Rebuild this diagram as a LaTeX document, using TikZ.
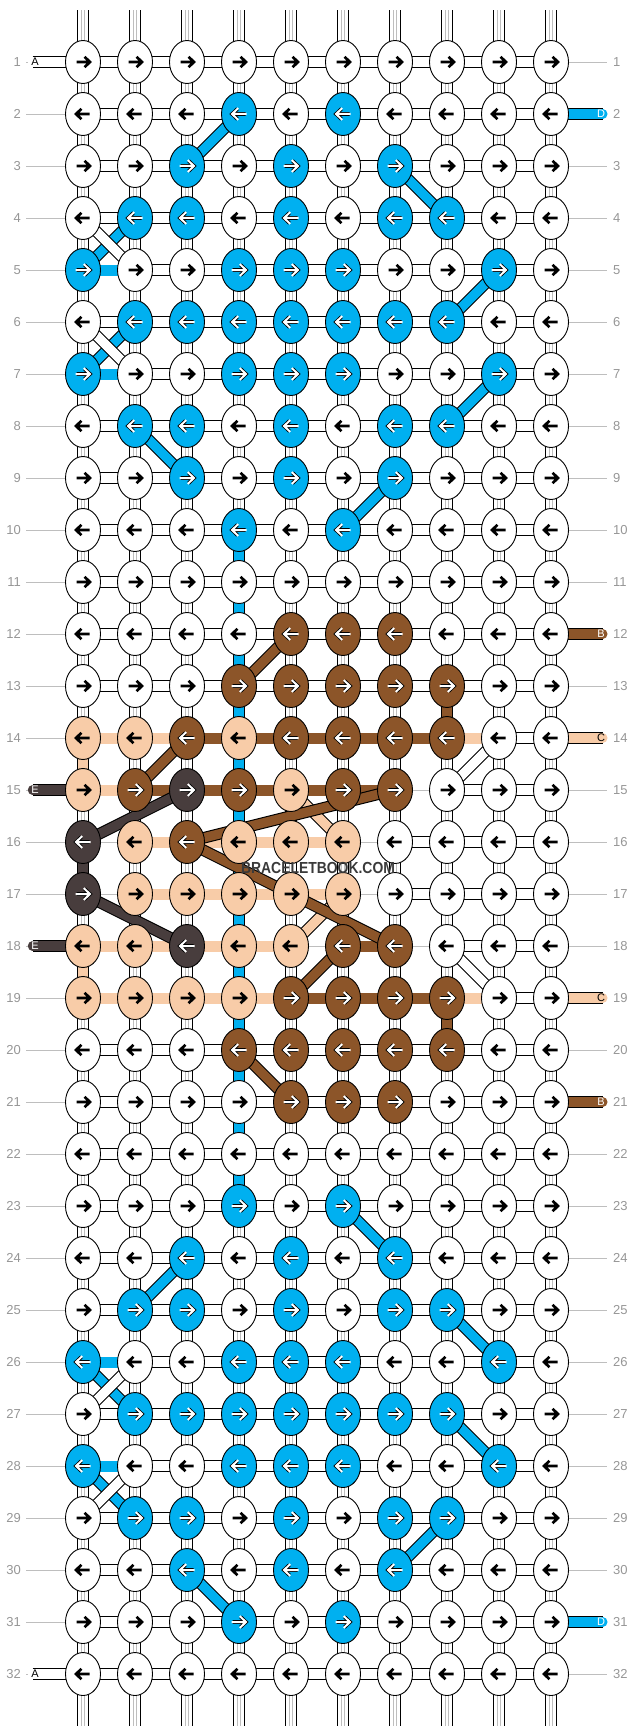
\documentclass[tikz,border=0pt]{standalone}
\usepackage{fontspec}
\setmainfont{Liberation Sans}
\usetikzlibrary{shapes.geometric}

\definecolor{colW}{RGB}{255,255,255}
\definecolor{colU}{RGB}{0,176,240}
\definecolor{colR}{RGB}{140,85,41}
\definecolor{colP}{RGB}{248,204,168}
\definecolor{colK}{RGB}{72,61,61}
\definecolor{rowgrey}{RGB}{150,150,150}
\definecolor{linegrey}{RGB}{190,190,190}
\definecolor{markgrey}{RGB}{58,58,58}

\pgfdeclarelayer{strings}
\pgfsetlayers{strings,main}

\begin{document}
\begin{tikzpicture}[x=1pt,y=-1pt,
    knot/.style={ellipse,draw=black,line width=0.9pt,minimum width=35pt,minimum height=43pt,inner sep=0pt},
    aW/.style={draw=black,line width=2.7pt},
    aP/.style={aW},
    aU/.style={draw=white,line width=2pt,line cap=rect,preaction={draw=black,line width=3.6pt}},
    aR/.style={aU},
    aK/.style={aU},
    onW/.style={text=black},
    onP/.style={text=black},
    onU/.style={text=white},
    onR/.style={text=white},
    onK/.style={text=white},
    band/.style={draw=#1,line width=9.4pt,preaction={draw=black,line width=11.6pt}},
    gW/.style={band=white},
    gU/.style={draw=colU,line width=11pt},
    gR/.style={draw=colR,line width=11pt},
    gP/.style={draw=colP,line width=11pt},
    gN/.style={draw=none},
    vstrand/.style={band=white,line cap=round},
    vthread/.style={draw=linegrey,line width=0.7pt},
    vseg/.style={draw=#1,line width=9.6pt},
    tail/.style={band=#1,line cap=round},
    rowno/.style={text=rowgrey,font=\fontsize{13}{13}\selectfont,inner ysep=0pt},
    rowline/.style={draw=linegrey,line width=0.9pt},
    letter/.style={font=\fontsize{11}{11}\selectfont,inner sep=0pt},
    watermark/.style={text=markgrey,font=\bfseries\fontsize{16}{16}\selectfont,inner sep=0pt}]
    \useasboundingbox (0,0) rectangle (636,1736);

    % row numbers
    \foreach \r in {1,...,32}
    {
      \node[rowno,anchor=east,inner xsep=5pt] (ln-\r) at (26,{62+52*(\r-1)}) {\r};
      \node[rowno,anchor=west,inner xsep=6pt] (rn-\r) at (607,{62+52*(\r-1)}) {\r};
      \begin{pgfonlayer}{strings}
        \draw[rowline] (ln-\r) -- (rn-\r);
      \end{pgfonlayer}
    }

    % knots, odd rows go right
    \foreach \row [count=\r] in {
      {W,W,W,W,W,W,W,W,W,W},
      {W,W,W,U,W,U,W,W,W,W},
      {W,W,U,W,U,W,U,W,W,W},
      {W,U,U,W,U,W,U,U,W,W},
      {U,W,W,U,U,U,W,W,U,W},
      {W,U,U,U,U,U,U,U,W,W},
      {U,W,W,U,U,U,W,W,U,W},
      {W,U,U,W,U,W,U,U,W,W},
      {W,W,U,W,U,W,U,W,W,W},
      {W,W,W,U,W,U,W,W,W,W},
      {W,W,W,W,W,W,W,W,W,W},
      {W,W,W,W,R,R,R,W,W,W},
      {W,W,W,R,R,R,R,R,W,W},
      {P,P,R,P,R,R,R,R,W,W},
      {P,R,K,R,P,R,R,W,W,W},
      {K,P,R,P,P,P,W,W,W,W},
      {K,P,P,P,P,P,W,W,W,W},
      {P,P,K,P,P,R,R,W,W,W},
      {P,P,P,P,R,R,R,R,W,W},
      {W,W,W,R,R,R,R,R,W,W},
      {W,W,W,W,R,R,R,W,W,W},
      {W,W,W,W,W,W,W,W,W,W},
      {W,W,W,U,W,U,W,W,W,W},
      {W,W,U,W,U,W,U,W,W,W},
      {W,U,U,W,U,W,U,U,W,W},
      {U,W,W,U,U,U,W,W,U,W},
      {W,U,U,U,U,U,U,U,W,W},
      {U,W,W,U,U,U,W,W,U,W},
      {W,U,U,W,U,W,U,U,W,W},
      {W,W,U,W,U,W,U,W,W,W},
      {W,W,W,U,W,U,W,W,W,W},
      {W,W,W,W,W,W,W,W,W,W}}
    {
      \pgfmathsetmacro{\dir}{ifthenelse(isodd(\r),1,-1)}
      \foreach \c [count=\i] in \row
      {
        \node[knot,fill=col\c] (k-\r-\i) at ({83+52*(\i-1)},{62+52*(\r-1)}) {};
        \draw[a\c,shift={(k-\r-\i.center)},xscale=\dir] (-6.5,0) -- (6,0) (1.5,-5.2) -- (7,0) -- (1.5,5.2);
      }
    }

    \begin{pgfonlayer}{strings}
    % warp strings
    \foreach \i in {1,...,10}
    {
      \coordinate (top-\i) at ({83+52*(\i-1)},10.5);
      \coordinate (bot-\i) at ({83+52*(\i-1)},1725.5);
      \draw[vstrand] (top-\i) -- (bot-\i);
      \draw[vthread] ([xshift=-1.4pt]top-\i) -- ([xshift=-1.4pt]bot-\i);
      \draw[vthread] ([xshift=1.4pt]top-\i) -- ([xshift=1.4pt]bot-\i);
    }

    % row strings
    \foreach \r in {1,2,3,4,6,8,9,10,11,12,13,20,21,22,23,24,25,27,29,30,31,32}
      \foreach \i in {1,...,9}
      {
        \pgfmathtruncatemacro{\j}{\i+1}
        \draw[gW] (k-\r-\i.center) -- (k-\r-\j.center);
      }
    \foreach \r/\gaps in {
      5/{U,W,W,W,W,W,W,W,W},
      7/{U,W,W,W,W,W,W,W,W},
      14/{P,P,R,R,R,R,R,P,W},
      15/{P,R,R,R,R,R,N,W,W},
      16/{N,P,P,P,P,N,W,W,W},
      17/{N,P,P,P,P,N,W,W,W},
      18/{P,P,P,P,N,R,N,W,W},
      19/{P,P,P,P,R,R,R,P,W},
      26/{U,W,W,W,W,W,W,W,W},
      28/{U,W,W,W,W,W,W,W,W}}
      \foreach \g [count=\i] in \gaps
      {
        \pgfmathtruncatemacro{\j}{\i+1}
        \draw[g\g] (k-\r-\i.center) -- (k-\r-\j.center);
      }

    % coloured pieces of the warp
    \foreach \r in {10,...,22}
    {
      \pgfmathtruncatemacro{\j}{\r+1}
      \draw[vseg=colU] (k-\r-4.center) -- (k-\j-4.center);
    }
    \foreach \r/\i/\c in {14/1/P,16/1/K,18/1/P,13/8/R,19/8/R}
    {
      \pgfmathtruncatemacro{\j}{\r+1}
      \draw[vseg=col\c] (k-\r-\i.center) -- (k-\j-\i.center);
    }

    % carried strings
    \foreach \a/\b/\c in {2-4/3-3/U,3-7/4-8/U,4-2/5-1/U,6-2/7-1/U,5-9/6-8/U,7-9/8-8/U,8-2/9-3/U,9-7/10-6/U,
        23-6/24-7/U,24-3/25-2/U,25-8/26-9/U,26-1/27-2/U,27-8/28-9/U,28-1/29-2/U,29-8/30-7/U,30-3/31-4/U,
        15-5/16-6/P,17-6/18-5/P,
        12-5/13-4/R,14-3/15-2/R,16-3/15-7/R,16-3/18-7/R,18-6/19-5/R,20-4/21-5/R,
        15-3/16-1/K,17-1/18-3/K,
        4-1/5-2/W,6-1/7-2/W,27-1/26-2/W,29-1/28-2/W,14-9/15-8/W,18-8/19-9/W}
      \draw[band=col\c] (k-\a.center) -- (k-\b.center);

    % loose ends
    \foreach \r/\c in {1/W,15/K,18/K,32/W}
    {
      \coordinate (endl-\r) at (32.5,{62+52*(\r-1)});
      \draw[tail=col\c] (endl-\r) -- (k-\r-1.center);
    }
    \foreach \r/\c in {2/U,12/R,14/P,19/P,21/R,31/U}
    {
      \coordinate (endr-\r) at (602.8,{62+52*(\r-1)});
      \draw[tail=col\c] (k-\r-10.center) -- (endr-\r);
    }
    \end{pgfonlayer}

    \foreach \r/\c/\t in {1/W/A,15/K/E,18/K/E,32/W/A}
      \node[letter,on\c] (tl-\r) at (35,{62+52*(\r-1)}) {\t};
    \foreach \r/\c/\t in {2/U/D,12/R/B,14/P/C,19/P/C,21/R/B,31/U/D}
      \node[letter,on\c] (tr-\r) at (601,{62+52*(\r-1)}) {\t};

    \node[watermark] (wm) at (318,868) {\scalebox{0.87}[1]{BRACELETBOOK.COM}};
\end{tikzpicture}
\end{document}
